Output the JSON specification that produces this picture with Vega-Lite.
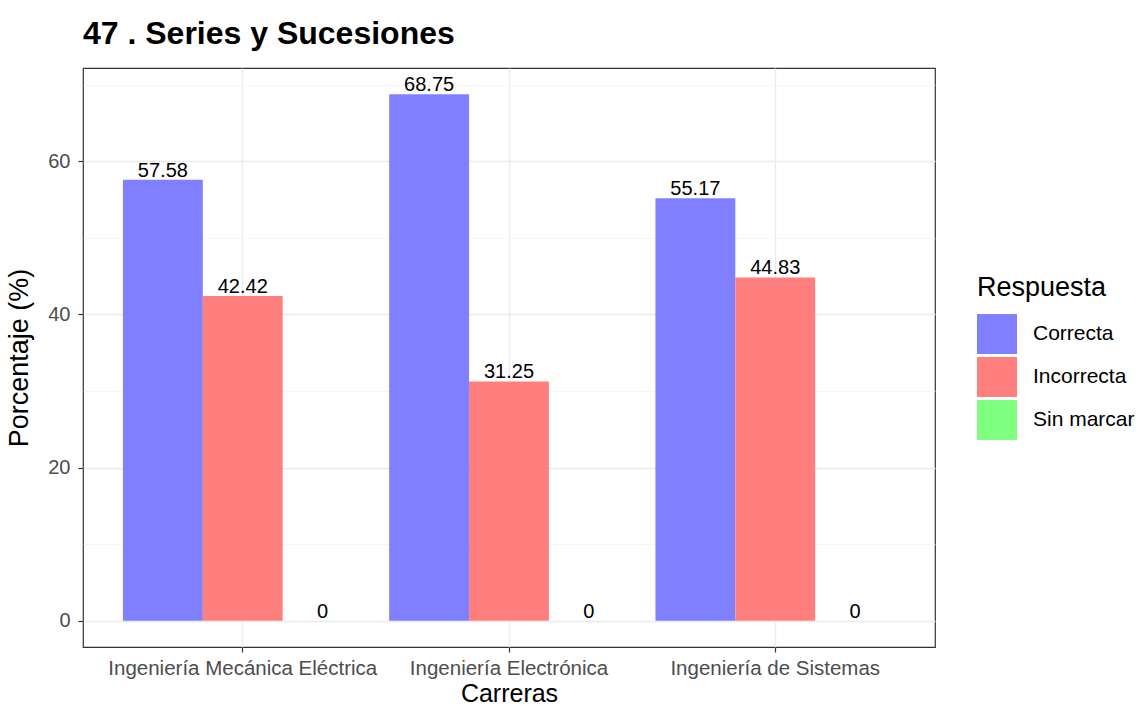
{
  "$schema": "https://vega.github.io/schema/vega-lite/v6.json",
  "autosize": "none",
  "width": 852,
  "height": 579,
  "padding": {"left": 83, "top": 68, "right": 208, "bottom": 64},
  "background": "white",
  "config": {
    "font": "Liberation Sans",
    "view": {"stroke": "#333333", "strokeWidth": 1.2},
    "axis": {"labelFont": "Liberation Sans", "titleFont": "Liberation Sans"}
  },
  "title": {
    "text": "47 . Series y Sucesiones",
    "anchor": "start",
    "frame": "group",
    "font": "Liberation Sans",
    "fontSize": 32,
    "fontWeight": "bold",
    "color": "#000000",
    "offset": 17
  },
  "data": {
    "values": [
      {"carrera": "Ingeniería Mecánica Eléctrica", "respuesta": "Correcta", "pct": 57.58},
      {"carrera": "Ingeniería Mecánica Eléctrica", "respuesta": "Incorrecta", "pct": 42.42},
      {"carrera": "Ingeniería Mecánica Eléctrica", "respuesta": "Sin marcar", "pct": 0},
      {"carrera": "Ingeniería Electrónica", "respuesta": "Correcta", "pct": 68.75},
      {"carrera": "Ingeniería Electrónica", "respuesta": "Incorrecta", "pct": 31.25},
      {"carrera": "Ingeniería Electrónica", "respuesta": "Sin marcar", "pct": 0},
      {"carrera": "Ingeniería de Sistemas", "respuesta": "Correcta", "pct": 55.17},
      {"carrera": "Ingeniería de Sistemas", "respuesta": "Incorrecta", "pct": 44.83},
      {"carrera": "Ingeniería de Sistemas", "respuesta": "Sin marcar", "pct": 0}
    ]
  },
  "encoding": {
    "x": {
      "field": "carrera",
      "type": "nominal",
      "sort": ["Ingeniería Mecánica Eléctrica", "Ingeniería Electrónica", "Ingeniería de Sistemas"],
      "scale": {"paddingInner": 0.1, "paddingOuter": 0.15},
      "title": "Carreras",
      "axis": {
        "labelAngle": 0,
        "labelLimit": 0,
        "bandPosition": 0.5,
        "grid": true,
        "gridColor": "#EBEBEB",
        "gridWidth": 1.3,
        "domain": false,
        "tickColor": "#333333",
        "tickSize": 5,
        "tickWidth": 1.2,
        "labelFontSize": 20.5,
        "labelColor": "#4D4D4D",
        "labelPadding": 6,
        "titleFontSize": 25,
        "titleFontWeight": "normal",
        "titleColor": "#000000",
        "titlePadding": 3
      }
    },
    "xOffset": {
      "field": "respuesta",
      "type": "nominal",
      "sort": ["Correcta", "Incorrecta", "Sin marcar"],
      "scale": {"paddingInner": 0, "paddingOuter": 0}
    }
  },
  "layer": [
    {
      "mark": {"type": "bar", "opacity": 1},
      "encoding": {
        "y": {
          "field": "pct",
          "type": "quantitative",
          "scale": {"domain": [-3.44, 72.19], "nice": false, "zero": false},
          "title": "Porcentaje (%)",
          "axis": {
            "orient": "left",
            "values": [0, 20, 40, 60],
            "grid": true,
            "gridColor": "#EBEBEB",
            "gridWidth": 1.3,
            "domain": false,
            "tickColor": "#333333",
            "tickSize": 5,
            "tickWidth": 1.2,
            "labelFontSize": 20,
            "labelColor": "#4D4D4D",
            "labelPadding": 8,
            "titleFontSize": 27,
            "titleFontWeight": "normal",
            "titleColor": "#000000",
            "titlePadding": 14
          }
        },
        "y2": {"datum": 0},
        "color": {
          "field": "respuesta",
          "type": "nominal",
          "sort": ["Correcta", "Incorrecta", "Sin marcar"],
          "scale": {"domain": ["Correcta", "Incorrecta", "Sin marcar"], "range": ["#7F7FFF", "#FF7F7F", "#7FFF7F"]},
          "title": "Respuesta",
          "legend": {
            "orient": "none",
            "legendX": 894,
            "legendY": 207,
            "symbolType": "square",
            "symbolSize": 1600,
            "symbolStrokeWidth": 0,
            "symbolOpacity": 1,
            "rowPadding": 3,
            "titleFontSize": 27,
            "titleFontWeight": "normal",
            "titleColor": "#000000",
            "titlePadding": 12,
            "labelFontSize": 21,
            "labelColor": "#000000",
            "labelOffset": 16
          }
        }
      }
    },
    {
      "mark": {"type": "text", "baseline": "alphabetic", "dy": -3, "fontSize": 20, "color": "#000000"},
      "encoding": {
        "y": {
          "field": "pct",
          "type": "quantitative",
          "scale": {"domain": [-3.44, 72.19], "nice": false, "zero": false},
          "axis": {
            "orient": "left",
            "values": [10, 30, 50, 70],
            "grid": true,
            "gridColor": "#F2F2F2",
            "gridWidth": 0.7,
            "labels": false,
            "ticks": false,
            "domain": false,
            "title": null
          }
        },
        "text": {"field": "pct", "type": "quantitative"}
      }
    }
  ],
  "resolve": {"axis": {"y": "independent"}}
}
